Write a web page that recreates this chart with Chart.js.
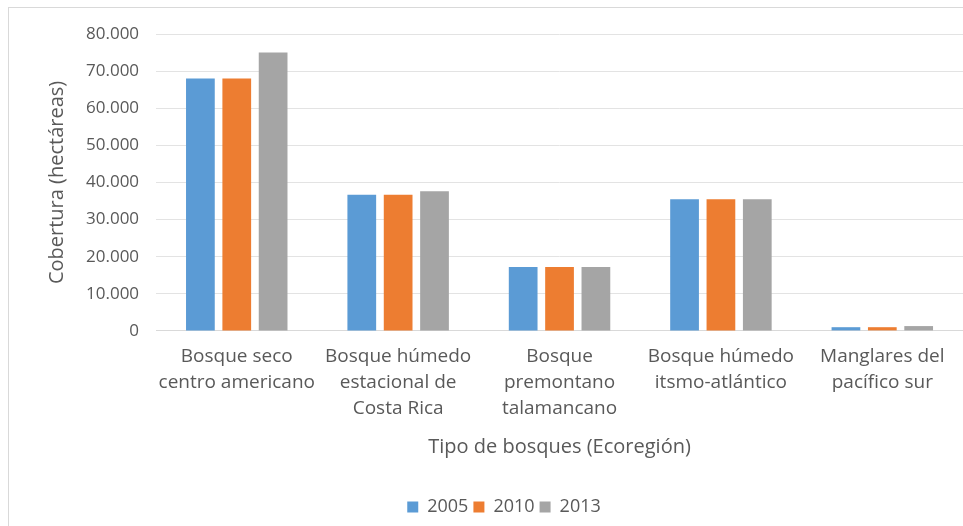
<!DOCTYPE html>
<html>
<head>
<meta charset="utf-8">
<script src="https://cdn.jsdelivr.net/npm/chart.js@4"></script>
<style>
  html, body { margin: 0; padding: 0; background: #fff; }
  #frame { position: absolute; left: 8px; top: 7px; width: 960px; height: 530px;
           border-left: 1px solid #d9d9d9; border-top: 1px solid #d9d9d9; }
  #wrap { position: absolute; left: 0; top: 0; width: 963px; height: 526px; }
</style>
</head>
<body>
<div id="frame"></div>
<div id="wrap"><canvas id="chart"></canvas></div>
<script>
// ecoregiones
const categories = [
  ['Bosque seco', 'centro americano'],
  ['Bosque húmedo', 'estacional de', 'Costa Rica'],
  ['Bosque', 'premontano', 'talamancano'],
  ['Bosque húmedo', 'itsmo-atlántico'],
  ['Manglares del', 'pacífico sur']
];
const years = ['2005', '2010', '2013'];
const cov2005 = [68000, 36700, 17200, 35500, 1000];
const cov2010 = [68000, 36700, 17200, 35500, 1000];
const cov2013 = [75000, 37600, 17200, 35500, 1300];
const colors = ['#5b9bd5', '#ed7d31', '#a5a5a5'];

const font = "'Open Sans', 'Noto Sans', sans-serif";
const grey = '#595959';

new Chart(document.getElementById('chart'), {
  type: 'bar',
  data: {
    labels: categories,
    datasets: [cov2005, cov2010, cov2013].map((d, i) => ({
      label: years[i],
      data: d,
      backgroundColor: colors[i],
      categoryPercentage: 0.676,
      barPercentage: 0.79
    }))
  },
  options: {
    responsive: true,
    maintainAspectRatio: false,
    animation: false,
    layout: { padding: { left: 45, right: 0, top: 34, bottom: 0 } },
    plugins: {
      tooltip: { enabled: false },
      legend: {
        position: 'bottom',
        labels: {
          boxWidth: 11, boxHeight: 11, padding: 5,
          color: grey, font: { family: font, size: 18 }
        }
      }
    },
    scales: {
      x: {
        grid: { display: false, drawTicks: false },
        border: { color: '#d9d9d9' },
        ticks: { color: grey, font: { family: font, size: 19, lineHeight: 1.37 }, padding: 13,
                 maxRotation: 0, autoSkip: false },
        title: { display: true, text: 'Tipo de bosques (Ecoregión)', color: grey,
                 font: { family: font, size: 20 }, padding: { top: 0, bottom: 34 } }
      },
      y: {
        min: 0, max: 80000,
        ticks: {
          stepSize: 10000, color: grey, padding: 17,
          font: { family: font, size: 17 },
          callback: v => v === 0 ? '0' : v.toLocaleString('de-DE')
        },
        grid: { color: '#e3e3e3', drawTicks: false },
        border: { display: false },
        title: { display: true, text: 'Cobertura (hectáreas)', color: grey,
                 font: { family: font, size: 20 }, padding: { top: 0, bottom: 0 } }
      }
    }
  }
});
</script>
</body>
</html>
